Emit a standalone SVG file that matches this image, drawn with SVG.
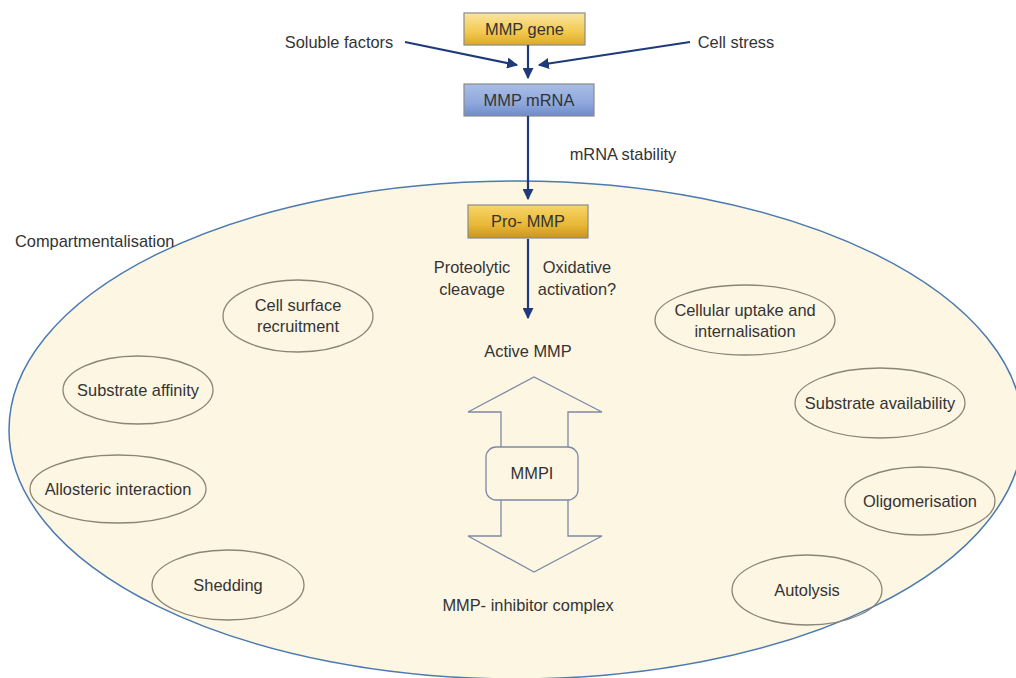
<svg xmlns="http://www.w3.org/2000/svg" width="1016" height="678" viewBox="0 0 1016 678">
<defs>
<linearGradient id="gold" x1="0" y1="0" x2="0" y2="1">
<stop offset="0" stop-color="#fbe6a0"/><stop offset="0.6" stop-color="#f2c84e"/><stop offset="1" stop-color="#dca92a"/>
</linearGradient>
<linearGradient id="gold2" x1="0" y1="0" x2="0" y2="1">
<stop offset="0" stop-color="#f7d66a"/><stop offset="0.6" stop-color="#e8b836"/><stop offset="1" stop-color="#c99520"/>
</linearGradient>
<linearGradient id="blue" x1="0" y1="0" x2="0" y2="1">
<stop offset="0" stop-color="#a9bde6"/><stop offset="0.6" stop-color="#8fa8dc"/><stop offset="1" stop-color="#6d8acb"/>
</linearGradient>
<marker id="ah" viewBox="0 0 10 10" refX="9" refY="5" markerWidth="5" markerHeight="5" orient="auto">
<path d="M0,0 L10,5 L0,10 z" fill="#1f3a7a"/>
</marker>
<style>
text{font-family:"Liberation Sans",Arial,sans-serif;font-size:16.4px;fill:#333}
.c{text-anchor:middle}
.oval{fill:none;stroke:#8a8574;stroke-width:1.3}
.box{stroke:#8a8a8a;stroke-width:1.2}
.conn{stroke:#1f3a7a;stroke-width:2.2;fill:none;marker-end:url(#ah)}
.da{fill:none;stroke:#7d8aa6;stroke-width:1.3}
</style>
</defs>
<rect width="1016" height="678" fill="#fff"/>
<g id="compartment">
<ellipse cx="516" cy="430" rx="507" ry="249" fill="#fdf6e3" stroke="#4a7ab0" stroke-width="1.5"/>
<text x="15" y="247">Compartmentalisation</text>
</g>
<g id="mmp-gene"><rect class="box" x="464" y="13" width="121" height="32" fill="url(#gold)"/><text class="c" x="524.5" y="35">MMP gene</text></g>
<g id="mmp-mrna"><rect class="box" x="464" y="84" width="130" height="32" fill="url(#blue)"/><text class="c" x="529" y="106">MMP mRNA</text></g>
<g id="pro-mmp"><rect class="box" x="468" y="205" width="120" height="33" fill="url(#gold2)"/><text class="c" x="528" y="227">Pro- MMP</text></g>
<g id="soluble"><text class="c" x="339" y="48">Soluble factors</text></g>
<g id="stress"><text class="c" x="736" y="48">Cell stress</text></g>
<g id="stability"><text class="c" x="623" y="160">mRNA stability</text></g>
<g id="proteolytic"><text class="c" x="472" y="273">Proteolytic</text><text class="c" x="472" y="295">cleavage</text></g>
<g id="oxidative"><text class="c" x="577" y="273">Oxidative</text><text class="c" x="577" y="295">activation?</text></g>
<g id="active"><text class="c" x="528" y="357">Active MMP</text></g>
<g id="double-arrow">
<path class="da" d="M501,447 L501,412 L468,412 L534,377 L602,412 L568,412 L568,447"/>
<path class="da" d="M501,500 L501,536 L468,536 L534,572 L602,536 L568,536 L568,500"/>
</g>
<g id="mmpi"><rect x="486" y="447" width="92" height="53" rx="10" fill="#fdf6e3" stroke="#7d8aa6" stroke-width="1.3"/><text class="c" x="532" y="479">MMPI</text></g>
<g id="complex"><text class="c" x="528" y="611">MMP- inhibitor complex</text></g>
<g id="cell-surface"><ellipse class="oval" cx="298" cy="316" rx="75" ry="36"/><text class="c" x="298" y="311">Cell surface</text><text class="c" x="298" y="332">recruitment</text></g>
<g id="substrate-affinity"><ellipse class="oval" cx="138" cy="390" rx="75" ry="34"/><text class="c" x="138" y="396">Substrate affinity</text></g>
<g id="allosteric"><ellipse class="oval" cx="118" cy="489" rx="88" ry="34"/><text class="c" x="118" y="495">Allosteric interaction</text></g>
<g id="shedding"><ellipse class="oval" cx="228" cy="585" rx="76" ry="35"/><text class="c" x="228" y="591">Shedding</text></g>
<g id="uptake"><ellipse class="oval" cx="745" cy="320" rx="90" ry="35"/><text class="c" x="745" y="316">Cellular uptake and</text><text class="c" x="745" y="337">internalisation</text></g>
<g id="substrate-availability"><ellipse class="oval" cx="880" cy="403" rx="85" ry="35"/><text class="c" x="880" y="409">Substrate availability</text></g>
<g id="oligomerisation"><ellipse class="oval" cx="920" cy="501" rx="75" ry="34"/><text class="c" x="920" y="507">Oligomerisation</text></g>
<g id="autolysis"><ellipse class="oval" cx="807" cy="590" rx="75" ry="35"/><text class="c" x="807" y="596">Autolysis</text></g>
<g id="connectors">
<line class="conn" x1="528" y1="45" x2="528" y2="78"/>
<line class="conn" x1="405" y1="42" x2="517" y2="65"/>
<line class="conn" x1="690" y1="42" x2="539" y2="65"/>
<line class="conn" x1="528" y1="116" x2="528" y2="199"/>
<line class="conn" x1="528" y1="239" x2="528" y2="318"/>
</g>
</svg>
